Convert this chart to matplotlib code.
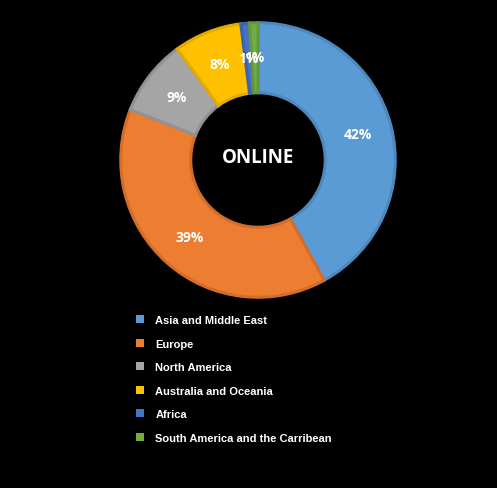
import matplotlib.pyplot as plt

regions = ["Asia and Middle East", "Europe", "North America",
           "Australia and Oceania", "Africa", "South America and the Carribean"]
shares = [42, 39, 9, 8, 1, 1]
colors = ["#5B9BD5", "#ED7D31", "#A5A5A5", "#FFC000", "#4472C4", "#70AD47"]
edges = ["#4F88BD", "#D36E2A", "#929292", "#E3AB00", "#3C64AD", "#62993E"]

W, H = 497, 489
fig = plt.figure(figsize=(W / 100, H / 100), dpi=100, facecolor="black")

cx, cy, r = 258, 161, 140
ax = fig.add_axes([(cx - r) / W, 1 - (cy + r) / H, 2 * r / W, 2 * r / H])
ax.set_facecolor("black")

wedges, texts, autotexts = ax.pie(
    shares, colors=colors, startangle=90, counterclock=False, radius=1,
    wedgeprops=dict(width=0.51, linewidth=2.2),
    autopct="%d%%", pctdistance=0.75,
    textprops=dict(color="white", fontsize=10, fontweight="bold",
                   family="Open Sans"))
for w, e in zip(wedges, edges):
    w.set_edgecolor(e)
ax.set_xlim(-1.02, 1.02)
ax.set_ylim(-1.02, 1.02)
ax.axis("off")
ax.text(0, 0.02, "ONLINE", ha="center", va="center", color="white",
        fontsize=13.5, fontweight="bold", family="Open Sans")

leg = fig.legend(wedges, regions, loc="upper left",
                 bbox_to_anchor=(136 / W, 1 - 316 / H), frameon=False,
                 borderpad=0, borderaxespad=0, handlelength=0.75,
                 handleheight=0.75, handletextpad=1.0, labelspacing=1.22,
                 prop=dict(family="Liberation Sans", weight="bold", size=8))
for t in leg.get_texts():
    t.set_color("white")
for h in leg.legend_handles:
    h.set_linewidth(0)

fig.savefig("out.png", dpi=100, facecolor="black")
